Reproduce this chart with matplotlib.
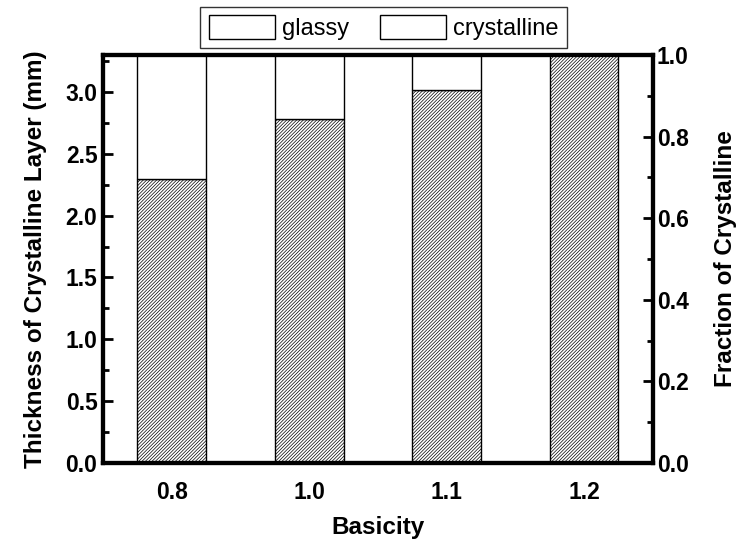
import matplotlib.pyplot as plt
from matplotlib.patches import Rectangle
from matplotlib.ticker import MultipleLocator

plt.rcParams["font.family"] = ["Liberation Sans", "DejaVu Sans"]
plt.rcParams["hatch.linewidth"] = 0.5

basicity = ["0.8", "1.0", "1.1", "1.2"]
crystalline = [2.30, 2.78, 3.02, 3.30]  # mm
total_thickness = 3.30  # mm
glassy = [total_thickness - c for c in crystalline]

fig = plt.figure(figsize=(7.36, 5.44), dpi=100)
ax = fig.add_axes([0.140, 0.149, 0.747, 0.750])

x = range(len(basicity))
ax.bar(x, crystalline, width=0.5, color="white", edgecolor="black",
       linewidth=1.0, hatch="//////////", zorder=2)
ax.bar(x, glassy, width=0.5, bottom=crystalline, color="white",
       edgecolor="black", linewidth=1.0, zorder=2)

ax.set_xlim(-0.5, 3.5)
ax.set_ylim(0, total_thickness)
ax.set_xticks(list(x))
ax.set_xticklabels(basicity)
ax.yaxis.set_major_locator(MultipleLocator(0.5))
ax.yaxis.set_minor_locator(MultipleLocator(0.25))
ax.yaxis.set_major_formatter(plt.FormatStrFormatter("%.1f"))

ax.tick_params(axis="x", length=0, pad=13, labelsize=16.5)
ax.tick_params(axis="y", which="major", direction="in", length=7, width=2,
               pad=4, labelsize=16.5, right=False)
ax.tick_params(axis="y", which="minor", direction="in", length=4, width=2,
               right=False)
for lab in ax.get_xticklabels() + ax.get_yticklabels():
    lab.set_fontweight("bold")

for s in ax.spines.values():
    s.set_linewidth(3)

ax.set_xlabel("Basicity", fontsize=17.5, fontweight="bold", labelpad=9)
ax.set_ylabel("Thickness of Crystalline Layer (mm)", fontsize=17.5,
              fontweight="bold", labelpad=13)

# fraction of crystalline on the right axis
ax2 = ax.twinx()
ax2.set_ylim(0, 1.0)
ax2.yaxis.set_major_locator(MultipleLocator(0.2))
ax2.yaxis.set_minor_locator(MultipleLocator(0.1))
ax2.yaxis.set_major_formatter(plt.FormatStrFormatter("%.1f"))
ax2.tick_params(axis="y", which="major", direction="in", length=7, width=2,
                pad=3, labelsize=16.5)
ax2.tick_params(axis="y", which="minor", direction="in", length=4, width=2)
for lab in ax2.get_yticklabels():
    lab.set_fontweight("bold")
for s in ax2.spines.values():
    s.set_linewidth(3)
ax2.set_ylabel("Fraction of Crystalline", fontsize=17.5, fontweight="bold",
               labelpad=18)

handles = [Rectangle((0, 0), 1, 1, facecolor="white", edgecolor="black", lw=1),
           Rectangle((0, 0), 1, 1, facecolor="white", edgecolor="black", lw=1)]
leg = fig.legend(handles, ["glassy", "crystalline"], loc="upper center",
                 bbox_to_anchor=(0.521, 0.988), ncol=2, fontsize=17,
                 frameon=True, fancybox=False, handlelength=2.8,
                 handleheight=1.2, handletextpad=0.3, columnspacing=1.3,
                 borderpad=0.35, borderaxespad=0)
leg.get_frame().set_edgecolor("black")
leg.get_frame().set_linewidth(1)

fig.savefig("out.png", dpi=100, facecolor="white")
